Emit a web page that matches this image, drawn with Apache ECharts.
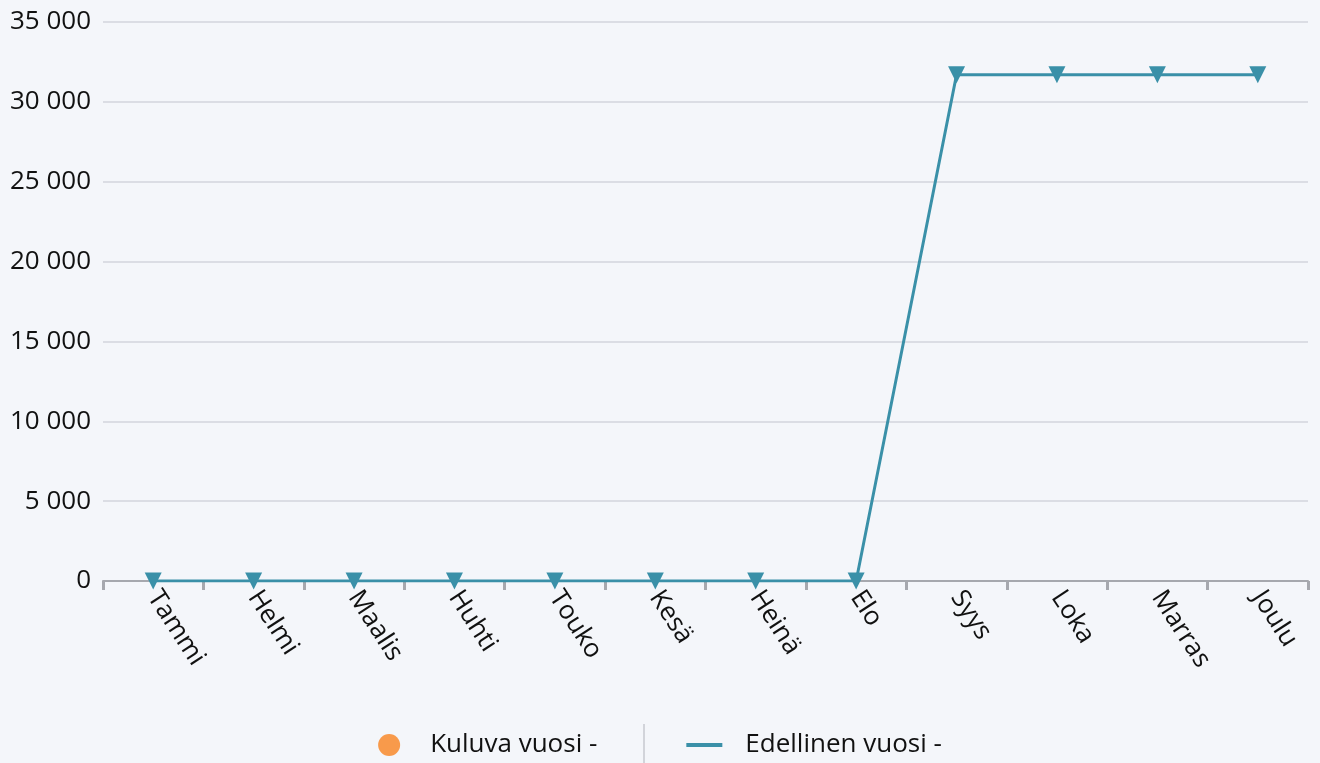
<!DOCTYPE html>
<html>
<head>
<meta charset="utf-8">
<script src="https://cdn.jsdelivr.net/npm/echarts@6/dist/echarts.min.js"></script>
<style>
html,body{margin:0;padding:0;background:#f4f6fa;}
#c{width:1320px;height:763px;}
</style>
</head>
<body>
<div id="c"></div>
<script>
const categories = ['Tammi','Helmi','Maalis','Huhti','Touko','Kesä','Heinä','Elo','Syys','Loka','Marras','Joulu'];
const kuluvaVuosi = [null,null,null,null,null,null,null,null,null,null,null,null];
const edellinenVuosi = [0,0,0,0,0,0,0,0,31700,31700,31700,31700];
const seriesNames = ['Kuluva vuosi -','Edellinen vuosi -'];

const FONT = '"Open Sans", "Noto Sans", sans-serif';
const chart = echarts.init(document.getElementById('c'));
chart.setOption({
  backgroundColor: '#f4f6fa',
  animation: false,
  textStyle: { fontFamily: FONT },
  grid: { left: 103, right: 12, top: 22, bottom: 182 },
  legend: {
    left: 'center', top: 727,
    itemWidth: 36, itemHeight: 22, itemGap: 89,
    textStyle: { fontSize: 26, color: '#111', fontFamily: FONT, padding: [0,0,0,18] },
    data: [
      { name: seriesNames[0], icon: 'circle' },
      { name: seriesNames[1], icon: 'path://M0,0h36v4h-36z' }
    ]
  },
  graphic: [{
    type: 'line', shape: { x1: 644, y1: 724, x2: 644, y2: 763 },
    style: { stroke: '#d2d4da', lineWidth: 2 }
  }],
  xAxis: {
    type: 'category', data: categories, boundaryGap: true,
    axisLine: { lineStyle: { color: '#a6a8ae', width: 2 } },
    axisTick: { show: true, length: 9, lineStyle: { color: '#a6a8ae', width: 3 } },
    axisLabel: { rotate: -57, fontSize: 26, color: '#111', margin: 12, fontFamily: FONT }
  },
  yAxis: {
    type: 'value', min: 0, max: 35000, interval: 5000,
    axisLine: { show: false }, axisTick: { show: false },
    splitLine: { lineStyle: { color: '#d3d5dc', width: 1.5 } },
    axisLabel: {
      fontSize: 26, color: '#111', margin: 12, fontFamily: FONT,
      formatter: v => String(v).replace(/\B(?=(\d{3})+(?!\d))/g, ' ')
    }
  },
  series: [
    { name: seriesNames[0], type: 'line', data: kuluvaVuosi, itemStyle: { color: '#f89a4b' }, symbol: 'circle' },
    {
      name: seriesNames[1], type: 'line', data: edellinenVuosi,
      itemStyle: { color: '#3a90a8' }, lineStyle: { color: '#3a90a8', width: 3 },
      symbol: 'triangle', symbolRotate: 180, symbolSize: 17, z: 3
    }
  ]
});
</script>
</body>
</html>
